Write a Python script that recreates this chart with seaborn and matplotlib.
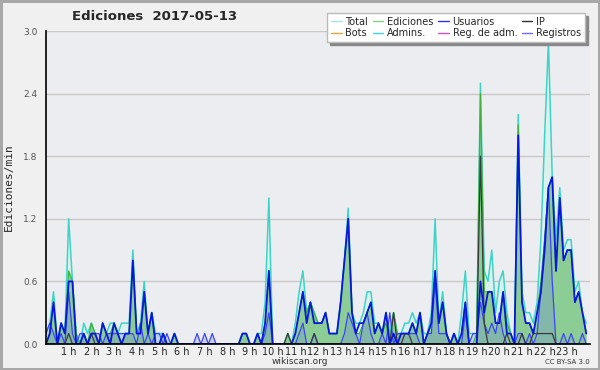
import matplotlib
matplotlib.use("Agg")
import matplotlib.pyplot as plt
import seaborn as sns
import numpy as np
from matplotlib.lines import Line2D
from matplotlib.ticker import MultipleLocator, FixedLocator

# ---------------------------------------------------------
# Data: edits per minute, one value per 10-minute slot (144 slots)
# ---------------------------------------------------------
total = [
    0.1, 0.2, 0.5, 0.0, 0.2, 0.1,   # 0 h
    1.2, 0.6, 0.1, 0.0, 0.2, 0.1,   # 1 h
    0.2, 0.1, 0.0, 0.2, 0.1, 0.2,   # 2 h
    0.2, 0.1, 0.2, 0.2, 0.2, 0.9,   # 3 h
    0.1, 0.2, 0.6, 0.1, 0.3, 0.1,   # 4 h
    0.1, 0.1, 0.0, 0.0, 0.1, 0.0,   # 5 h
    0.0, 0.0, 0.0, 0.0, 0.0, 0.0,   # 6 h
    0.0, 0.0, 0.0, 0.0, 0.0, 0.0,   # 7 h
    0.0, 0.0, 0.0, 0.0, 0.1, 0.1,   # 8 h
    0.0, 0.0, 0.1, 0.1, 0.4, 1.4,   # 9 h
    0.0, 0.0, 0.0, 0.0, 0.1, 0.0,   # 10 h
    0.2, 0.5, 0.7, 0.3, 0.4, 0.3,   # 11 h
    0.2, 0.2, 0.3, 0.1, 0.1, 0.1,   # 12 h
    0.4, 0.8, 1.3, 0.3, 0.2, 0.2,   # 13 h
    0.3, 0.5, 0.5, 0.2, 0.2, 0.1,   # 14 h
    0.3, 0.1, 0.3, 0.1, 0.1, 0.2,   # 15 h
    0.2, 0.3, 0.2, 0.3, 0.1, 0.1,   # 16 h
    0.3, 1.2, 0.2, 0.5, 0.1, 0.0,   # 17 h
    0.1, 0.0, 0.3, 0.7, 0.1, 0.1,   # 18 h
    0.1, 2.5, 0.7, 0.6, 0.9, 0.3,   # 19 h
    0.6, 0.7, 0.3, 0.1, 0.0, 2.2,   # 20 h
    0.5, 0.3, 0.3, 0.2, 0.4, 1.0,   # 21 h
    2.0, 2.9, 1.6, 1.0, 1.5, 0.9,   # 22 h
    1.0, 1.0, 0.5, 0.6, 0.3, 0.2,   # 23 h
]
ediciones = [
    0.0, 0.1, 0.4, 0.0, 0.2, 0.1,
    0.7, 0.6, 0.1, 0.0, 0.1, 0.0,
    0.2, 0.1, 0.0, 0.2, 0.1, 0.1,
    0.2, 0.1, 0.0, 0.1, 0.1, 0.8,
    0.1, 0.1, 0.5, 0.1, 0.3, 0.0,
    0.0, 0.1, 0.0, 0.0, 0.1, 0.0,
    0.0, 0.0, 0.0, 0.0, 0.0, 0.0,
    0.0, 0.0, 0.0, 0.0, 0.0, 0.0,
    0.0, 0.0, 0.0, 0.0, 0.1, 0.1,
    0.0, 0.0, 0.1, 0.0, 0.2, 0.7,
    0.0, 0.0, 0.0, 0.0, 0.1, 0.0,
    0.1, 0.3, 0.5, 0.3, 0.4, 0.3,
    0.2, 0.2, 0.3, 0.1, 0.1, 0.1,
    0.4, 0.8, 1.2, 0.3, 0.1, 0.1,
    0.2, 0.3, 0.4, 0.1, 0.2, 0.1,
    0.2, 0.0, 0.3, 0.1, 0.1, 0.1,
    0.1, 0.2, 0.1, 0.3, 0.0, 0.1,
    0.2, 0.7, 0.2, 0.4, 0.1, 0.0,
    0.1, 0.0, 0.1, 0.4, 0.0, 0.0,
    0.1, 2.4, 0.5, 0.5, 0.5, 0.2,
    0.2, 0.5, 0.2, 0.1, 0.0, 2.1,
    0.4, 0.2, 0.2, 0.1, 0.3, 0.6,
    1.0, 1.5, 1.6, 0.7, 1.4, 0.8,
    0.9, 0.9, 0.4, 0.5, 0.3, 0.1,
]
usuarios = [
    0.0, 0.1, 0.4, 0.0, 0.2, 0.1,
    0.6, 0.6, 0.0, 0.0, 0.1, 0.0,
    0.1, 0.1, 0.0, 0.2, 0.1, 0.0,
    0.2, 0.1, 0.0, 0.1, 0.1, 0.8,
    0.1, 0.1, 0.5, 0.1, 0.3, 0.0,
    0.0, 0.1, 0.0, 0.0, 0.1, 0.0,
    0.0, 0.0, 0.0, 0.0, 0.0, 0.0,
    0.0, 0.0, 0.0, 0.0, 0.0, 0.0,
    0.0, 0.0, 0.0, 0.0, 0.1, 0.1,
    0.0, 0.0, 0.1, 0.0, 0.2, 0.7,
    0.0, 0.0, 0.0, 0.0, 0.0, 0.0,
    0.1, 0.3, 0.5, 0.2, 0.4, 0.2,
    0.2, 0.2, 0.3, 0.1, 0.1, 0.1,
    0.4, 0.8, 1.2, 0.3, 0.1, 0.2,
    0.2, 0.3, 0.4, 0.1, 0.2, 0.1,
    0.3, 0.0, 0.1, 0.0, 0.1, 0.1,
    0.1, 0.2, 0.1, 0.3, 0.0, 0.1,
    0.2, 0.7, 0.2, 0.4, 0.1, 0.0,
    0.1, 0.0, 0.1, 0.4, 0.0, 0.0,
    0.0, 0.6, 0.3, 0.5, 0.5, 0.2,
    0.2, 0.5, 0.1, 0.1, 0.0, 2.0,
    0.4, 0.2, 0.2, 0.1, 0.3, 0.5,
    0.9, 1.5, 1.6, 0.7, 1.4, 0.8,
    0.9, 0.9, 0.4, 0.5, 0.3, 0.1,
]
registros = [
    0.1, 0.2, 0.1, 0.0, 0.1, 0.0,
    0.5, 0.1, 0.0, 0.1, 0.1, 0.0,
    0.1, 0.1, 0.1, 0.0, 0.1, 0.1,
    0.1, 0.1, 0.1, 0.1, 0.1, 0.1,
    0.0, 0.2, 0.0, 0.1, 0.0, 0.1,
    0.1, 0.0, 0.1, 0.0, 0.0, 0.0,
    0.0, 0.0, 0.0, 0.0, 0.1, 0.0,
    0.1, 0.0, 0.1, 0.0, 0.0, 0.0,
    0.0, 0.0, 0.0, 0.0, 0.0, 0.0,
    0.0, 0.0, 0.0, 0.0, 0.1, 0.3,
    0.0, 0.0, 0.0, 0.0, 0.0, 0.0,
    0.0, 0.1, 0.2, 0.0, 0.0, 0.1,
    0.0, 0.0, 0.0, 0.0, 0.0, 0.0,
    0.0, 0.1, 0.3, 0.2, 0.1, 0.0,
    0.2, 0.3, 0.1, 0.0, 0.0, 0.1,
    0.0, 0.3, 0.0, 0.1, 0.1, 0.1,
    0.1, 0.1, 0.1, 0.0, 0.0, 0.1,
    0.1, 0.6, 0.1, 0.1, 0.1, 0.0,
    0.0, 0.0, 0.0, 0.3, 0.0, 0.1,
    0.1, 0.4, 0.2, 0.1, 0.2, 0.1,
    0.3, 0.1, 0.0, 0.0, 0.0, 0.1,
    0.1, 0.0, 0.1, 0.0, 0.1, 0.5,
    1.0, 1.5, 0.6, 0.0, 0.0, 0.1,
    0.0, 0.1, 0.0, 0.0, 0.1, 0.0,
]
ip = [
    0.0, 0.0, 0.0, 0.0, 0.0, 0.0,
    0.1, 0.0, 0.0, 0.0, 0.0, 0.0,
    0.1, 0.0, 0.0, 0.0, 0.0, 0.0,
    0.0, 0.0, 0.0, 0.0, 0.0, 0.0,
    0.0, 0.0, 0.0, 0.0, 0.0, 0.0,
    0.0, 0.0, 0.0, 0.0, 0.0, 0.0,
    0.0, 0.0, 0.0, 0.0, 0.0, 0.0,
    0.0, 0.0, 0.0, 0.0, 0.0, 0.0,
    0.0, 0.0, 0.0, 0.0, 0.0, 0.0,
    0.0, 0.0, 0.0, 0.0, 0.0, 0.0,
    0.0, 0.0, 0.0, 0.0, 0.1, 0.0,
    0.0, 0.0, 0.0, 0.0, 0.0, 0.1,
    0.0, 0.0, 0.0, 0.0, 0.0, 0.0,
    0.0, 0.0, 0.0, 0.0, 0.0, 0.0,
    0.0, 0.0, 0.0, 0.0, 0.0, 0.0,
    0.0, 0.0, 0.3, 0.0, 0.0, 0.1,
    0.1, 0.0, 0.0, 0.0, 0.0, 0.0,
    0.0, 0.0, 0.0, 0.0, 0.0, 0.0,
    0.0, 0.0, 0.0, 0.0, 0.0, 0.0,
    0.0, 1.8, 0.2, 0.0, 0.0, 0.0,
    0.0, 0.0, 0.1, 0.0, 0.0, 0.0,
    0.1, 0.0, 0.0, 0.1, 0.1, 0.1,
    0.1, 0.1, 0.1, 0.0, 0.0, 0.0,
    0.0, 0.0, 0.0, 0.0, 0.0, 0.0,
]
hour_labels = [f"{h} h" for h in range(1, 24)]
slots = np.arange(len(total))  # 10-minute slots

# ---------------------------------------------------------
# Style
# ---------------------------------------------------------
sns.set_style("white")
plt.rcParams['font.family'] = ['DejaVu Sans']

fig = plt.figure(figsize=(6, 3.7), dpi=100, facecolor='#f0f0f0')
fig.patch.set_edgecolor('#a8a8a8')
fig.patch.set_linewidth(2.5)
ax = fig.add_axes([46 / 600, 26 / 370, 544 / 600, 313 / 370])
ax.set_facecolor('#ecedf0')

# fills
ax.fill_between(slots, total, color='#d8f3ee', alpha=0.9, lw=0)
ax.fill_between(slots, ediciones, color='#7fc787', alpha=0.85, lw=0)
ax.fill_between(slots, registros, color='#6a78e8', alpha=0.25, lw=0)

# lines
sns.lineplot(x=slots, y=total, ax=ax, color='#3fd3c6', lw=1.1)
sns.lineplot(x=slots, y=ediciones, ax=ax, color='#3cb43c', lw=0.9)
sns.lineplot(x=slots, y=registros, ax=ax, color='#3c46f5', lw=0.9)
sns.lineplot(x=slots, y=ip, ax=ax, color='#3a3a3a', lw=0.9)
sns.lineplot(x=slots, y=usuarios, ax=ax, color='#0818d8', lw=1.3)

# axes
ax.set_xlim(0, 144)
ax.set_ylim(0, 3.0)
ax.yaxis.set_major_locator(MultipleLocator(0.6))
ax.yaxis.set_minor_locator(MultipleLocator(0.15))
ax.set_yticklabels([f"{v:.1f}" for v in ax.get_yticks()])
ax.xaxis.set_major_locator(FixedLocator(np.arange(6, 144, 6)))
ax.xaxis.set_minor_locator(MultipleLocator(1))
ax.set_xticklabels(hour_labels)
ax.grid(axis='y', color='#c9c9c9', lw=1)
ax.set_axisbelow(True)
for side in ['top', 'right']:
    ax.spines[side].set_visible(False)
for side in ['left', 'bottom']:
    ax.spines[side].set_color('black')
    ax.spines[side].set_linewidth(1.2)
ax.tick_params(axis='y', which='major', direction='out', length=5, width=1,
               labelsize=6.5, labelcolor='#555555', pad=1)
ax.tick_params(axis='y', which='minor', direction='out', length=3, width=1)
ax.tick_params(axis='x', which='both', direction='out', length=4, width=1,
               labelsize=7, pad=-1.5)
ax.set_xlabel('')
ax.set_ylabel('Ediciones/min', family='DejaVu Sans Mono', fontsize=8, labelpad=7)

# titles and credits
fig.text(155 / 600, 1 - 16 / 370, 'Ediciones  2017-05-13', ha='center', va='center',
         fontsize=9.5, fontweight='bold')
fig.text(300 / 600, 1 - 362 / 370, 'wikiscan.org', ha='center', va='center',
         fontsize=6.5, color='#333333')
fig.text(590 / 600, 1 - 362 / 370, 'CC BY-SA 3.0', ha='right', va='center',
         fontsize=5, color='#333333')

# legend
legend_items = [
    ('Total', '#a8e4e4'), ('Bots', '#f0a040'),
    ('Ediciones', '#80d080'), ('Admins.', '#40d0e0'),
    ('Usuarios', '#3030e0'), ('Reg. de adm.', '#d050d0'),
    ('IP', '#303030'), ('Registros', '#7070ff'),
]
handles = [Line2D([], [], color=c, lw=1) for _, c in legend_items]
labels = [n for n, _ in legend_items]
fig.legend(handles, labels, ncol=4, loc='upper right',
           bbox_to_anchor=(590 / 600, 1 - 8 / 370), fontsize=7,
           handlelength=1.1, handletextpad=0.4, columnspacing=0.45,
           labelspacing=0.15, borderpad=0.4, frameon=True, fancybox=False,
           shadow={'color': '#888888', 'alpha': 1}, framealpha=1,
           edgecolor='#bbbbbb', facecolor='white')

plt.savefig('out.png', dpi=100, facecolor=fig.get_facecolor(), edgecolor='#a8a8a8')
plt.close()
